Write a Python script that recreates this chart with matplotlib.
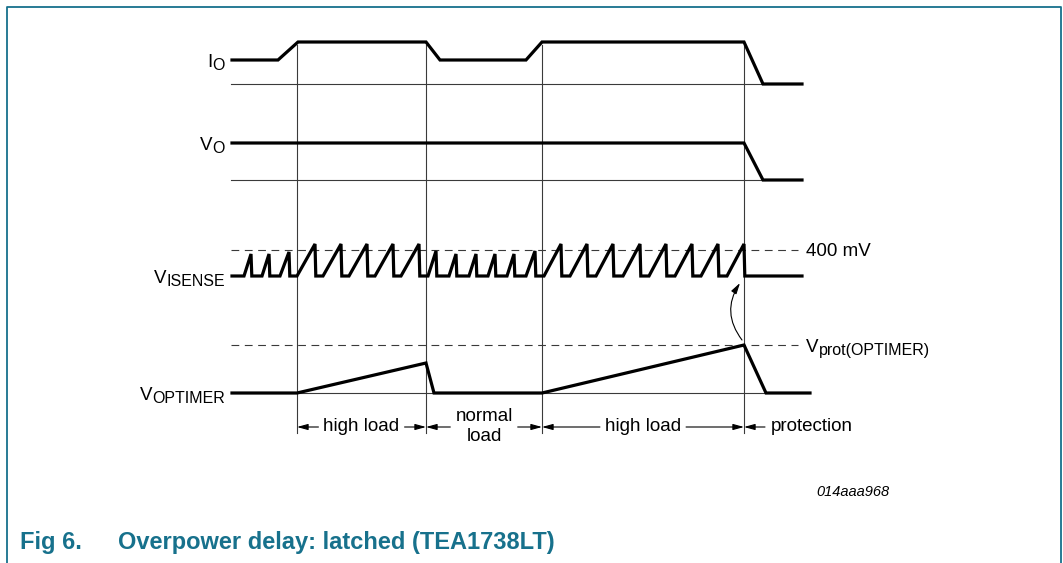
import numpy as np
import matplotlib.pyplot as plt
from matplotlib.patches import FancyArrowPatch

plt.rcParams['font.family'] = ['Liberation Sans', 'DejaVu Sans']

# DATA (time axis and signal levels in drawing units)
phase_bounds = [297, 426, 542, 744]
phase_labels = ['high load', 'normal\nload', 'high load', 'protection']

# I_O
io_t = [232, 278, 298, 426, 440, 526, 542, 744, 763, 802]
io_y = [60, 60, 42, 42, 60, 60, 42, 42, 84, 84]
io_base = 84
# V_O
vo_t = [232, 744, 763, 802]
vo_y = [143, 143, 180, 180]
vo_base = 180
# V_ISENSE sawtooth: peak times, peak levels, ramp widths
isense_base = 276
isense_400mv = 250
isense_peaks = [251, 269, 289, 315, 341, 367, 393, 419,
                436, 456, 476, 495, 514, 535,
                561, 587, 613, 640, 666, 692, 718, 744]
isense_levels = [254, 254, 252, 244, 244, 244, 244, 244,
                 251, 254, 254, 254, 254, 251,
                 244, 244, 244, 244, 244, 244, 244, 244]
isense_ramp = [7, 7, 9, 18, 18, 18, 18, 18,
               8, 7, 7, 7, 7, 9,
               17, 17, 17, 17, 17, 17, 17, 17]
isense_start, isense_end = 232, 802
# V_OPTIMER
opt_t = [232, 297, 426, 434, 542, 744, 766, 810]
opt_y = [393, 393, 363, 393, 393, 345, 393, 393]
opt_base = 393
opt_prot = 345

label_main = ['I', 'V', 'V', 'V']
label_sub = ['O', 'O', 'ISENSE', 'OPTIMER']
label_levels = [60, 143, 276, 393]

teal = '#17718c'
thick = 2.3
thin = 0.8
grey = '#3a3a3a'
fs = 13.5
fs_sub = 11.5

fig = plt.figure(figsize=(10.63, 5.63), dpi=100)
ax = fig.add_axes([0, 0, 1, 1])
ax.set_xlim(0, 1063)
ax.set_ylim(563, 0)
ax.axis('off')
fig.canvas.draw()
renderer = fig.canvas.get_renderer()
inv = ax.transData.inverted()


def x_extent(t):
    bb = t.get_window_extent(renderer)
    (lx, _), (rx, _) = inv.transform([[bb.x0, bb.y0], [bb.x1, bb.y1]])
    return lx, rx


def sub_label(x, base, main, sub, right=True):
    if right:
        ts = ax.text(x, base + 3, sub, fontsize=fs_sub, ha='right', va='baseline')
        lx, _ = x_extent(ts)
        ax.text(lx, base, main, fontsize=fs, ha='right', va='baseline')
    else:
        tm = ax.text(x, base, main, fontsize=fs, ha='left', va='baseline')
        _, rx = x_extent(tm)
        ax.text(rx, base + 3, sub, fontsize=fs_sub, ha='left', va='baseline')


# frame
ax.plot([7, 7, 1061, 1061], [563, 7, 7, 563], color=teal, lw=1.3)

# thin baselines
ax.plot([231, 765], [io_base, io_base], color=grey, lw=thin)
ax.plot([231, 765], [vo_base, vo_base], color=grey, lw=thin)
ax.plot([231, 766], [opt_base, opt_base], color=grey, lw=thin)

# dashed levels
for lev in [isense_400mv, opt_prot]:
    ax.plot([231, 798], [lev, lev], color=grey, lw=thin, ls=(0, (7, 5)))

# vertical phase markers
for xb in phase_bounds:
    ax.plot([xb, xb], [45, 433], color=grey, lw=thin)

# waveforms
ax.plot(io_t, io_y, color='k', lw=thick, solid_joinstyle='miter')
ax.plot(vo_t, vo_y, color='k', lw=thick, solid_joinstyle='miter')

st = [isense_start]
sy = [isense_base]
for pk, lv, w in zip(isense_peaks, isense_levels, isense_ramp):
    st += [pk - w, pk, pk + 0.8]
    sy += [isense_base, lv, isense_base]
st.append(isense_end)
sy.append(isense_base)
ax.plot(st, sy, color='k', lw=thick, solid_joinstyle='miter')

ax.plot(opt_t, opt_y, color='k', lw=thick, solid_joinstyle='miter')

# signal names
for m, s, lev in zip(label_main, label_sub, label_levels):
    sub_label(225, lev + 7, m, s)

ax.text(806, isense_400mv + 6.5, '400 mV', fontsize=fs, va='baseline')
sub_label(806, opt_prot + 7, 'V', 'prot(OPTIMER)', right=False)

head = '-|>,head_length=0.65,head_width=0.18'
# curved arrow from V_OPTIMER to V_ISENSE
ax.add_patch(FancyArrowPatch((742, 340), (740, 283), connectionstyle='arc3,rad=-0.35',
                             arrowstyle=head, mutation_scale=10, lw=0.8, color='k',
                             shrinkA=0, shrinkB=0))

# phase annotations
arrow_y = 427
arr = dict(arrowstyle=head, lw=0.8, color='k', mutation_scale=10, shrinkA=0, shrinkB=0)
for i, lab in enumerate(phase_labels):
    if i < len(phase_bounds) - 1:
        x0, x1 = phase_bounds[i], phase_bounds[i + 1]
        xc = (x0 + x1) / 2
        if '\n' in lab:
            top, bot = lab.split('\n')
            t = ax.text(xc, 421, top, fontsize=fs, ha='center', va='baseline')
            ax.text(xc, 441, bot, fontsize=fs, ha='center', va='baseline')
        else:
            t = ax.text(xc, 431, lab, fontsize=fs, ha='center', va='baseline')
        lx, rx = x_extent(t)
        ax.annotate('', xy=(x0, arrow_y), xytext=(lx - 5, arrow_y), arrowprops=arr)
        ax.annotate('', xy=(x1, arrow_y), xytext=(rx + 5, arrow_y), arrowprops=arr)
    else:
        x0 = phase_bounds[i]
        ax.text(x0 + 27, 431, lab, fontsize=fs, ha='left', va='baseline')
        ax.annotate('', xy=(x0, arrow_y), xytext=(x0 + 21, arrow_y), arrowprops=arr)

ax.text(889, 496, '014aaa968', fontsize=10.5, style='italic', ha='right', va='baseline')
ax.text(20, 549, 'Fig 6.', fontsize=17, weight='bold', color=teal, va='baseline')
ax.text(118, 549, 'Overpower delay: latched (TEA1738LT)', fontsize=17, weight='bold',
        color=teal, va='baseline')

fig.savefig('out.png', dpi=100)
